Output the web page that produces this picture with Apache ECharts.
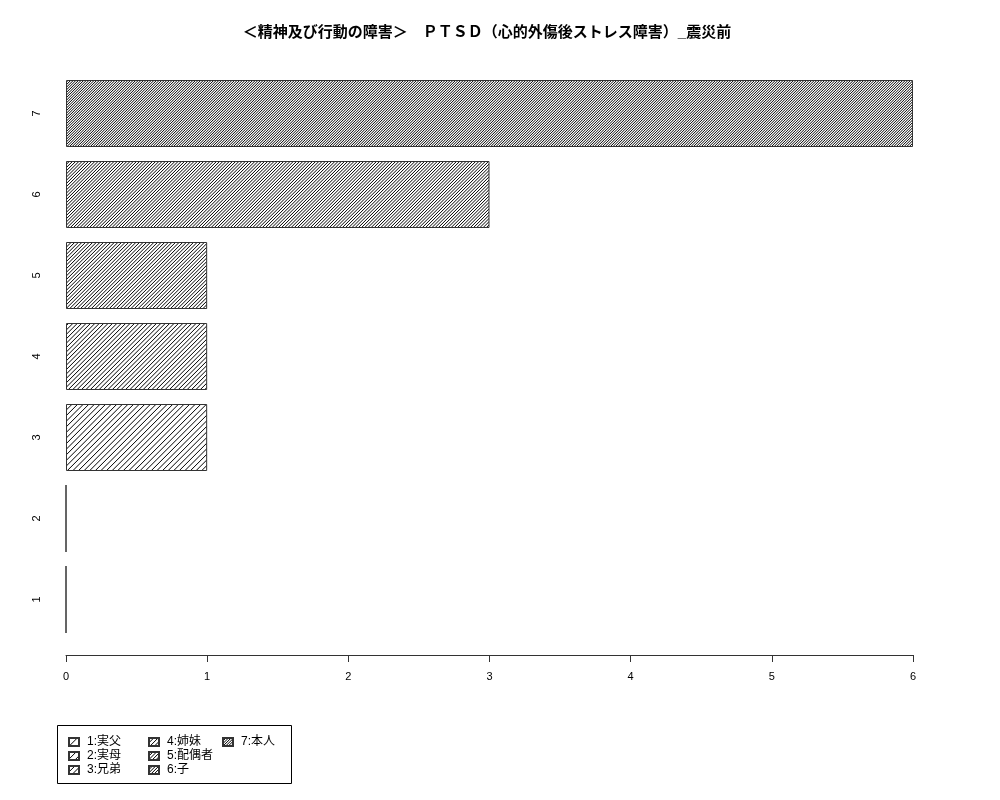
<!DOCTYPE html>
<html style="height: 100%">
<head>
    <meta charset="utf-8">
</head>
<body style="height: 100%; margin: 0; background: #fff">
    <div id="container" style="width: 1000px; height: 800px"></div>
    <script type="text/javascript" src="https://cdn.jsdelivr.net/npm/echarts@6/dist/echarts.min.js"></script>
    <script type="text/javascript">
        // data
        var categories = ['1', '2', '3', '4', '5', '6', '7'];
        var seriesNames = ['1:実父', '2:実母', '3:兄弟', '4:姉妹', '5:配偶者', '6:子', '7:本人'];
        var values = [0, 0, 1, 1, 1, 3, 6];
        var xTicks = [0, 1, 2, 3, 4, 5, 6];

        // hatch spacing (px) per bar, gets denser going up
        var hatchSpacing = [8, 6.8, 5.6, 4.4, 3.6, 3.2, 2.6];

        var FONT = "'Liberation Sans', 'Noto Sans CJK JP', sans-serif";

        function hatch(spacing) {
            var n = 5;
            var T = Math.round(spacing * n);
            var c = document.createElement('canvas');
            c.width = T; c.height = T;
            var g = c.getContext('2d');
            g.fillStyle = '#fff';
            g.fillRect(0, 0, T, T);
            g.strokeStyle = '#000';
            g.lineWidth = 1;
            for (var k = 0; k <= 2 * n; k++) {
                var d = k * T / n + 0.3;
                g.beginPath();
                g.moveTo(d + 2, -2);
                g.lineTo(d - T - 2, T + 2);
                g.stroke();
            }
            return { image: c, repeat: 'repeat' };
        }

        var series = seriesNames.map(function (name, i) {
            var data = categories.map(function (c, j) { return j === i ? values[i] : '-'; });
            return {
                name: name,
                type: 'bar',
                stack: 'all',
                barWidth: 67,
                data: data,
                itemStyle: { color: hatch(hatchSpacing[i]), borderColor: '#333', borderWidth: 1 },
                emphasis: { disabled: true }
            };
        });

        function legendCol(names, left) {
            return {
                orient: 'vertical',
                left: left,
                top: 735,
                padding: 0,
                itemGap: 0,
                itemWidth: 10,
                itemHeight: 8,
                icon: 'rect',
                selectedMode: false,
                data: names,
                textStyle: { fontFamily: FONT, fontSize: 12, color: '#000', lineHeight: 14, padding: [0, 0, 0, 3] }
            };
        }

        var myChart = echarts.init(document.getElementById('container'));
        var option = {
            backgroundColor: '#fff',
            animation: false,
            title: {
                text: '＜精神及び行動の障害＞　ＰＴＳＤ（心的外傷後ストレス障害）_震災前',
                left: 482,
                textAlign: 'center',
                top: 20,
                textStyle: { fontFamily: FONT, fontSize: 15, fontWeight: 'bold', color: '#000' }
            },
            legend: [
                legendCol(seriesNames.slice(0, 3), 68),
                legendCol(seriesNames.slice(3, 6), 148),
                legendCol(seriesNames.slice(6, 7), 222)
            ],
            graphic: [{
                type: 'rect',
                shape: { x: 57.5, y: 725.5, width: 234, height: 58 },
                style: { fill: 'none', stroke: '#000', lineWidth: 1 }
            }],
            grid: { left: 66, right: 87, top: 73, bottom: 160 },
            xAxis: {
                type: 'value',
                min: xTicks[0],
                max: xTicks[xTicks.length - 1],
                interval: 1,
                offset: 15,
                splitLine: { show: false },
                axisLine: { show: true, lineStyle: { color: '#333', width: 1 } },
                axisTick: { show: true, length: 7, lineStyle: { color: '#333' } },
                axisLabel: { fontFamily: FONT, fontSize: 11, color: '#000', margin: 16 }
            },
            yAxis: {
                type: 'category',
                data: categories,
                axisLine: { show: false },
                axisTick: { show: false },
                axisLabel: { fontFamily: FONT, fontSize: 11, color: '#000', rotate: 90, margin: 24 }
            },
            series: series
        };
        myChart.setOption(option);
    </script>
</body>
</html>
